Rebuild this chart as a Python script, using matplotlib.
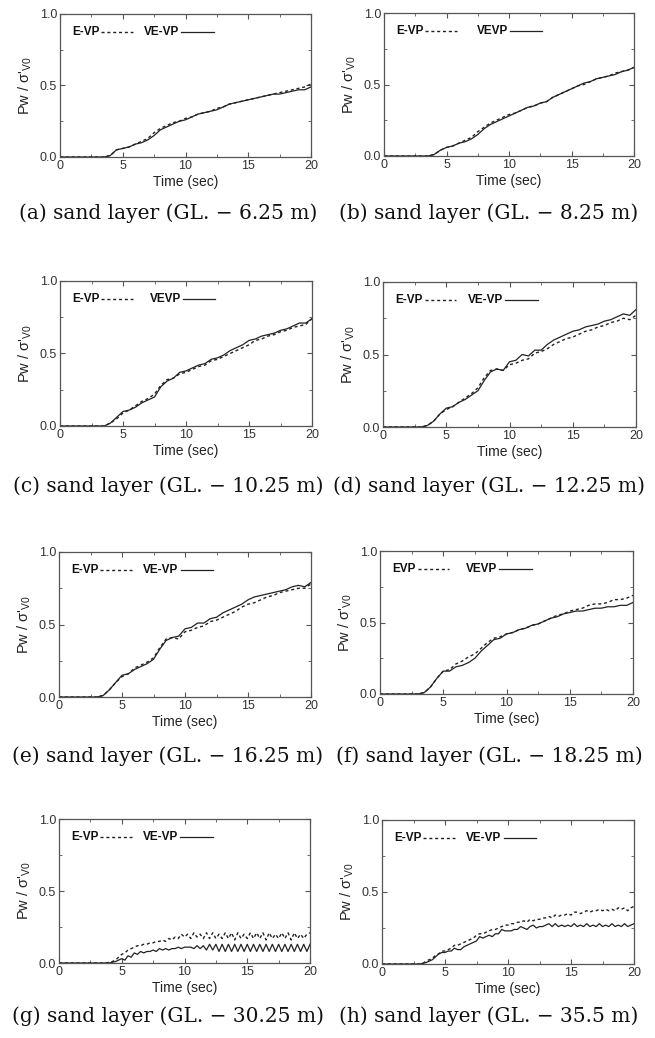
import numpy as np
import matplotlib
matplotlib.use("Agg")
import matplotlib.pyplot as plt
from matplotlib.ticker import MultipleLocator

plt.rcParams['font.family'] = ['Liberation Sans', 'DejaVu Sans']
plt.rcParams['mathtext.fontset'] = 'custom'
plt.rcParams['mathtext.rm'] = 'Liberation Sans'

# time grids (sec)
t_half = np.arange(0, 20.01, 0.5)     # panels a-f
t_quarter = np.arange(0, 20.01, 0.25)  # panels g-h

# ---- data: Pw / sigma'v0 ----
a_evp = [0]*8 + [0.01, 0.05, 0.06, 0.07, 0.09, 0.11, 0.13, 0.17, 0.20, 0.22, 0.24, 0.25, 0.27, 0.28, 0.30, 0.31,
                 0.32, 0.34, 0.35, 0.37, 0.38, 0.39, 0.40, 0.41, 0.42, 0.43, 0.44, 0.45, 0.46, 0.47, 0.48, 0.49, 0.51]
a_vevp = [0]*8 + [0.01, 0.05, 0.06, 0.07, 0.09, 0.10, 0.12, 0.15, 0.19, 0.21, 0.23, 0.25, 0.26, 0.28, 0.30, 0.31,
                  0.32, 0.33, 0.35, 0.37, 0.38, 0.39, 0.40, 0.41, 0.42, 0.43, 0.44, 0.44, 0.45, 0.46, 0.47, 0.47, 0.49]

b_evp = [0]*8 + [0.01, 0.04, 0.06, 0.07, 0.09, 0.11, 0.13, 0.17, 0.20, 0.23, 0.25, 0.27, 0.29, 0.30, 0.32, 0.34,
                 0.35, 0.37, 0.38, 0.41, 0.43, 0.45, 0.47, 0.49, 0.50, 0.52, 0.54, 0.55, 0.56, 0.58, 0.59, 0.60, 0.62]
b_vevp = [0]*8 + [0.01, 0.04, 0.06, 0.07, 0.09, 0.10, 0.12, 0.15, 0.19, 0.22, 0.24, 0.26, 0.28, 0.30, 0.32, 0.34,
                  0.35, 0.37, 0.38, 0.41, 0.43, 0.45, 0.47, 0.49, 0.51, 0.52, 0.54, 0.55, 0.56, 0.57, 0.59, 0.60, 0.62]

c_evp = [0]*8 + [0.02, 0.05, 0.09, 0.11, 0.14, 0.17, 0.19, 0.22, 0.28, 0.32, 0.33, 0.36, 0.37, 0.39, 0.41, 0.42,
                 0.45, 0.46, 0.48, 0.50, 0.52, 0.54, 0.56, 0.59, 0.60, 0.62, 0.63, 0.65, 0.66, 0.68, 0.69, 0.70, 0.74]
c_vevp = [0]*8 + [0.02, 0.06, 0.10, 0.11, 0.13, 0.16, 0.18, 0.20, 0.27, 0.31, 0.33, 0.37, 0.38, 0.40, 0.42, 0.43,
                  0.46, 0.47, 0.49, 0.52, 0.54, 0.56, 0.59, 0.60, 0.62, 0.63, 0.64, 0.66, 0.67, 0.69, 0.71, 0.71, 0.74]

d_evp = [0]*7 + [0.01, 0.04, 0.09, 0.12, 0.14, 0.17, 0.20, 0.23, 0.27, 0.34, 0.39, 0.40, 0.39, 0.43, 0.44, 0.46, 0.47,
                 0.51, 0.52, 0.54, 0.57, 0.59, 0.61, 0.62, 0.64, 0.66, 0.67, 0.69, 0.70, 0.72, 0.73, 0.75, 0.74, 0.77]
d_vevp = [0]*7 + [0.01, 0.04, 0.09, 0.13, 0.14, 0.17, 0.19, 0.22, 0.25, 0.32, 0.38, 0.40, 0.39, 0.45, 0.46, 0.50, 0.49,
                  0.53, 0.53, 0.57, 0.60, 0.62, 0.64, 0.66, 0.67, 0.69, 0.70, 0.71, 0.73, 0.74, 0.76, 0.78, 0.77, 0.81]

e_evp = [0]*7 + [0.01, 0.05, 0.10, 0.14, 0.16, 0.20, 0.22, 0.24, 0.27, 0.34, 0.40, 0.41, 0.40, 0.45, 0.46, 0.48, 0.49,
                 0.52, 0.53, 0.55, 0.57, 0.59, 0.62, 0.64, 0.65, 0.67, 0.69, 0.70, 0.72, 0.73, 0.74, 0.75, 0.75, 0.78]
e_vevp = [0]*7 + [0.01, 0.05, 0.10, 0.15, 0.16, 0.19, 0.21, 0.23, 0.26, 0.33, 0.39, 0.41, 0.42, 0.47, 0.48, 0.51, 0.51,
                  0.54, 0.55, 0.58, 0.60, 0.62, 0.64, 0.67, 0.69, 0.70, 0.71, 0.72, 0.73, 0.74, 0.76, 0.77, 0.76, 0.79]

f_evp = [0]*7 + [0.01, 0.05, 0.11, 0.16, 0.17, 0.21, 0.23, 0.26, 0.28, 0.32, 0.36, 0.39, 0.40, 0.42, 0.43, 0.45, 0.46,
                 0.48, 0.49, 0.51, 0.53, 0.55, 0.56, 0.58, 0.59, 0.60, 0.62, 0.63, 0.63, 0.64, 0.66, 0.66, 0.67, 0.69]
f_vevp = [0]*7 + [0.01, 0.05, 0.11, 0.16, 0.16, 0.19, 0.20, 0.22, 0.25, 0.30, 0.34, 0.38, 0.39, 0.42, 0.43, 0.45, 0.46,
                  0.48, 0.49, 0.51, 0.53, 0.54, 0.56, 0.57, 0.58, 0.58, 0.59, 0.60, 0.60, 0.61, 0.61, 0.62, 0.62, 0.64]

g_evp = [0]*16 + [0.005, 0.01, 0.02, 0.04, 0.06, 0.07, 0.09, 0.10, 0.11, 0.12, 0.12, 0.13, 0.13, 0.14, 0.14, 0.15,
                  0.15, 0.16, 0.15, 0.17, 0.16, 0.18, 0.17, 0.20, 0.18, 0.20, 0.17, 0.21, 0.18, 0.20, 0.17, 0.21,
                  0.17, 0.21, 0.17, 0.20, 0.17, 0.21, 0.17, 0.21, 0.16, 0.21, 0.17, 0.20, 0.17, 0.21, 0.17, 0.21,
                  0.17, 0.21, 0.16, 0.21, 0.17, 0.20, 0.17, 0.21, 0.17, 0.21, 0.16, 0.21, 0.17, 0.20, 0.17, 0.20,
                  0.21]
g_vevp = [0]*16 + [0.0, 0.005, 0.01, 0.02, 0.03, 0.02, 0.05, 0.04, 0.07, 0.06, 0.08, 0.07, 0.08, 0.08, 0.09, 0.08,
                   0.10, 0.09, 0.10, 0.09, 0.10, 0.10, 0.11, 0.10, 0.11, 0.11, 0.11, 0.10, 0.12, 0.10, 0.12, 0.09,
                   0.13, 0.09, 0.13, 0.08, 0.13, 0.08, 0.13, 0.08, 0.13, 0.08, 0.13, 0.08, 0.13, 0.08, 0.13, 0.08,
                   0.13, 0.08, 0.13, 0.08, 0.13, 0.08, 0.13, 0.08, 0.13, 0.08, 0.13, 0.08, 0.13, 0.08, 0.13, 0.08,
                   0.13]

h_evp = [0]*13 + [0.005, 0.02, 0.03, 0.04, 0.06, 0.07, 0.09, 0.09, 0.10, 0.11, 0.13, 0.13, 0.14, 0.15, 0.16, 0.17,
                  0.18, 0.20, 0.21, 0.21, 0.22, 0.23, 0.24, 0.24, 0.25, 0.26, 0.27, 0.27, 0.28, 0.28, 0.29, 0.29,
                  0.30, 0.29, 0.31, 0.30, 0.31, 0.31, 0.32, 0.32, 0.33, 0.32, 0.34, 0.33, 0.34, 0.34, 0.35, 0.34,
                  0.36, 0.36, 0.35, 0.36, 0.37, 0.36, 0.37, 0.37, 0.38, 0.37, 0.38, 0.37, 0.38, 0.37, 0.39, 0.38,
                  0.39, 0.37, 0.39, 0.40]
h_vevp = [0]*13 + [0.005, 0.01, 0.02, 0.03, 0.05, 0.07, 0.08, 0.08, 0.09, 0.09, 0.11, 0.10, 0.10, 0.12, 0.13, 0.14,
                   0.15, 0.16, 0.19, 0.18, 0.19, 0.20, 0.19, 0.21, 0.21, 0.24, 0.23, 0.23, 0.23, 0.24, 0.24, 0.26,
                   0.25, 0.24, 0.26, 0.27, 0.25, 0.26, 0.26, 0.27, 0.28, 0.26, 0.28, 0.26, 0.27, 0.26, 0.27, 0.26,
                   0.28, 0.26, 0.27, 0.26, 0.28, 0.26, 0.27, 0.26, 0.28, 0.26, 0.27, 0.26, 0.28, 0.26, 0.27, 0.26,
                   0.28, 0.26, 0.27, 0.28]

legend_a = ["E-VP", "E-VP", "E-VP", "E-VP", "E-VP", "EVP", "E-VP", "E-VP"]
legend_b = ["VE-VP", "VEVP", "VEVP", "VE-VP", "VE-VP", "VEVP", "VE-VP", "VE-VP"]
captions = ["(a) sand layer (GL. \u2212 6.25 m)", "(b) sand layer (GL. \u2212 8.25 m)",
            "(c) sand layer (GL. \u2212 10.25 m)", "(d) sand layer (GL. \u2212 12.25 m)",
            "(e) sand layer (GL. \u2212 16.25 m)", "(f) sand layer (GL. \u2212 18.25 m)",
            "(g) sand layer (GL. \u2212 30.25 m)", "(h) sand layer (GL. \u2212 35.5 m)"]

panels = [(t_half, a_evp, a_vevp), (t_half, b_evp, b_vevp), (t_half, c_evp, c_vevp), (t_half, d_evp, d_vevp),
          (t_half, e_evp, e_vevp), (t_half, f_evp, f_vevp), (t_quarter, g_evp, g_vevp), (t_quarter, h_evp, h_vevp)]

# axes boxes in pixels: left, right, top, bottom
boxes = [(60, 311, 14, 157), (384, 634, 13, 156),
         (60, 312, 281, 426), (383, 636, 282, 427),
         (59, 311, 552, 697), (380, 633, 551, 694),
         (59, 310, 819, 963), (382, 634, 820, 964)]
cap_y = [213, 213, 486, 486, 756, 756, 1016, 1016]
cap_x = [168, 489, 168, 489, 168, 489, 168, 489]
leg_b_x = [0.335, 0.37, 0.355, 0.335, 0.335, 0.34, 0.335, 0.335]

W, H = 655, 1038
fig = plt.figure(figsize=(W / 100, H / 100), dpi=100)
renderer = fig.canvas.get_renderer()

line_col = '#222222'
frame_col = '#555555'
dash = (0, (2.2, 2.0))

for i, (t, evp, vevp) in enumerate(panels):
    l, r, tp, bt = boxes[i]
    ax = fig.add_axes([l / W, 1 - bt / H, (r - l) / W, (bt - tp) / H])
    ax.plot(t, evp, color=line_col, lw=1.0, linestyle=dash)
    ax.plot(t, vevp, color=line_col, lw=0.9)
    ax.set_xlim(0, 20)
    ax.set_ylim(0, 1.0)
    ax.xaxis.set_major_locator(MultipleLocator(5))
    ax.xaxis.set_minor_locator(MultipleLocator(2.5))
    ax.yaxis.set_major_locator(MultipleLocator(0.5))
    ax.yaxis.set_minor_locator(MultipleLocator(0.25))
    ax.yaxis.set_major_formatter(matplotlib.ticker.FormatStrFormatter('%.1f'))
    ax.tick_params(which='both', direction='in', top=True, right=True, colors=frame_col,
                   labelcolor='#333333', labelsize=9, pad=2)
    ax.tick_params(which='major', length=3.5, width=0.8)
    ax.tick_params(which='minor', length=2, width=0.6)
    for s in ax.spines.values():
        s.set_color(frame_col)
        s.set_linewidth(0.9)
    ax.set_xlabel("Time (sec)", fontsize=10, color='#222222', labelpad=2)
    ax.set_ylabel("Pw / \u03c3'$_{\\mathrm{V0}}$", fontsize=10.5, color='#222222', labelpad=4)

    # in-axes legend: bold text, then a short line sample right after it
    ax_w = ax.get_window_extent(renderer).width
    ta = ax.text(0.05, 0.875, legend_a[i], transform=ax.transAxes, fontsize=8.5, fontweight='bold',
                 va='center', ha='left', color='#111111')
    x0 = 0.05 + ta.get_window_extent(renderer).width / ax_w + 0.006
    ax.plot([x0, x0 + 0.125], [0.875, 0.875], transform=ax.transAxes, color=line_col, lw=1.0, linestyle=dash)
    tb = ax.text(leg_b_x[i], 0.875, legend_b[i], transform=ax.transAxes, fontsize=8.5, fontweight='bold',
                 va='center', ha='left', color='#111111')
    x1 = leg_b_x[i] + tb.get_window_extent(renderer).width / ax_w + 0.008
    ax.plot([x1, x1 + 0.13], [0.875, 0.875], transform=ax.transAxes, color=line_col, lw=0.9)

    fig.text(cap_x[i] / W, 1 - cap_y[i] / H, captions[i], family='DejaVu Serif', fontsize=14.5,
             ha='center', va='center', color='#111111')

fig.savefig("out.png", dpi=100)
